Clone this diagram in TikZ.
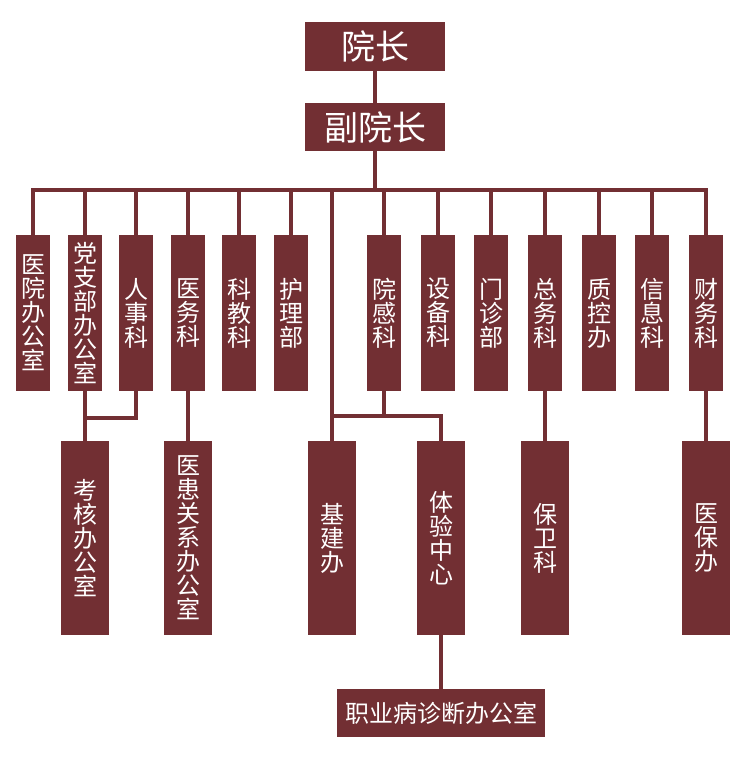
\documentclass[tikz,border=0pt]{standalone}
\usepackage{fontspec}
\setmainfont{Noto Sans CJK SC}
\definecolor{boxred}{HTML}{722F33}
\tikzset{
  box/.style={fill=boxred, text=white, inner sep=0pt, align=center},
  vbox/.style={box, minimum width=34pt, minimum height=156pt, font=\fontsize{24}{24}\selectfont},
  lbox/.style={box, minimum width=48pt, minimum height=194pt, font=\fontsize{24}{24}\selectfont},
  conn/.style={draw=boxred, line width=4pt}
}
\begin{document}
\begin{tikzpicture}[x=1pt,y=-1pt]
\useasboundingbox (0,0) rectangle (742,759);
% nodes
\node[box, minimum width=140pt, minimum height=49pt, font=\fontsize{34}{38}\selectfont] (yz) at (375,46.5) {院长};
\node[box, minimum width=140pt, minimum height=48pt, font=\fontsize{34}{38}\selectfont] (fyz) at (375,127) {副院长};
\node[vbox] (a1) at (33,313) {医\\院\\办\\公\\室};
\node[vbox] (a2) at (85,313) {党\\支\\部\\办\\公\\室};
\node[vbox] (a3) at (136,313) {人\\事\\科};
\node[vbox] (a4) at (188,313) {医\\务\\科};
\node[vbox] (a5) at (239,313) {科\\教\\科};
\node[vbox] (a6) at (291,313) {护\\理\\部};
\node[vbox] (a7) at (384,313) {院\\感\\科};
\node[vbox] (a8) at (438,313) {设\\备\\科};
\node[vbox] (a9) at (491,313) {门\\诊\\部};
\node[vbox] (a10) at (545,313) {总\\务\\科};
\node[vbox] (a11) at (599,313) {质\\控\\办};
\node[vbox] (a12) at (652,313) {信\\息\\科};
\node[vbox] (a13) at (706,313) {财\\务\\科};
\node[lbox] (b1) at (85,538) {考\\核\\办\\公\\室};
\node[lbox] (b2) at (188,538) {医\\患\\关\\系\\办\\公\\室};
\node[lbox] (b3) at (332,538) {基\\建\\办};
\node[lbox] (b4) at (441,538) {体\\验\\中\\心};
\node[lbox] (b5) at (545,538) {保\\卫\\科};
\node[lbox] (b6) at (706,538) {医\\保\\办};
\node[box, minimum width=208pt, minimum height=48pt, font=\fontsize{24}{26}\selectfont] (c) at (441,713) {职业病诊断办公室};
% connectors
\coordinate (bar) at (375,190);
\coordinate (k) at (136,418);
\coordinate (j) at (384,416);
\draw[conn] (yz.south) -- (fyz.north);
\draw[conn] (fyz.south) -- (bar);
\draw[conn] (a1.north) |- (bar) -| (a13.north);
\foreach \n in {a2,a3,a4,a5,a6,a7,a8,a9,a10,a11,a12}
  \draw[conn] (\n.north) -- (\n.north |- bar);
\draw[conn] (b3.north) -- (b3.north |- bar);
\draw[conn] (a2.south) -- (b1.north);
\draw[conn] (a3.south) -- (k) -- (k -| b1.north);
\draw[conn] (a4.south) -- (b2.north);
\draw[conn] (a7.south) -- (j);
\draw[conn] (j -| b3.north) -- (j -| b4.north) -- (b4.north);
\draw[conn] (a10.south) -- (b5.north);
\draw[conn] (a13.south) -- (b6.north);
\draw[conn] (b4.south) -- (c.north);
\end{tikzpicture}
\end{document}
